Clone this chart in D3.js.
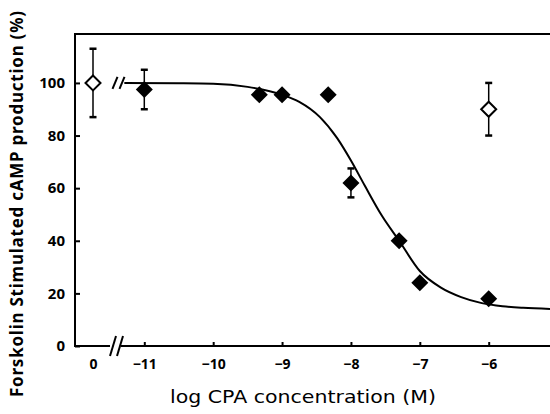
<!DOCTYPE html>
<html>
<head>
<meta charset="utf-8">
<script src="https://cdn.jsdelivr.net/npm/d3@7"></script>
<style>
  body { margin: 0; background: #fff; }
  svg { display: block; }
  .tick text { font-family: "Noto Sans", sans-serif; font-weight: 700; fill: #000; }
  .title { fill: #000; }
</style>
</head>
<body>
<svg width="550" height="414"></svg>
<script>
// data
const concLog = [-11, -9.33, -9, -8.33, -8, -7.3, -7, -6];
const response = [97.5, 95.5, 95.5, 95.5, 62, 40, 24, 18];
const responseErr = [7.5, 0, 0, 0, 5.5, 0, 0, 0];

// open symbols: control (no CPA) and antagonist point
const openX = ['0', -6];
const openY = [100, 90];
const openErr = [13, 10];

// fitted curve
const curveX = [-11.29, -10.5, -10, -9.5, -9, -8.75, -8.45, -8.2, -8, -7.8, -7.55, -7.3, -7, -6.7, -6.4, -6.1, -5.8, -5.5, -5.11];
const curveY = [100, 99.9, 99.7, 98.5, 95.5, 92.8, 87, 79, 70.5, 61, 49.5, 40, 28.5, 22.3, 18.6, 16.3, 15.1, 14.5, 14.1];

const xTicks = [-11, -10, -9, -8, -7, -6];
const yTicks = [0, 20, 40, 60, 80, 100];

const svg = d3.select('svg');
const width = +svg.attr('width');
const height = +svg.attr('height');
const margin = { top: 34, right: 0, bottom: 68, left: 75 };
const innerHeight = height - margin.top - margin.bottom;

const yScale = d3.scaleLinear().domain([0, 118.6]).range([margin.top + innerHeight, margin.top]);
const xScale = d3.scaleLinear().domain([-11, -6]).range([144.3, 488.7]);
const xCtrl = d3.scalePoint().domain(['0']).range([87, 99]);
const xPos = v => v === '0' ? xCtrl(v) : xScale(v);

const y0 = yScale(0);

// frame lines
const frame = svg.append('g').attr('stroke', '#000').attr('stroke-width', 2).attr('fill', 'none');
frame.append('line').attr('x1', margin.left).attr('x2', width).attr('y1', margin.top).attr('y2', margin.top);
frame.append('line').attr('x1', margin.left).attr('x2', margin.left).attr('y1', margin.top - 1).attr('y2', y0 + 1);
frame.append('line').attr('x1', margin.left - 1).attr('x2', 110).attr('y1', y0).attr('y2', y0);
frame.append('line').attr('x1', 121).attr('x2', width).attr('y1', y0).attr('y2', y0);

// axis break marks
[113, 120].forEach(bx => {
  frame.append('line').attr('x1', bx - 3).attr('y1', y0 + 10).attr('x2', bx + 3).attr('y2', y0 - 10);
});
[115, 122].forEach(bx => {
  frame.append('line').attr('x1', bx - 2.5).attr('y1', yScale(100) + 6).attr('x2', bx + 2.5).attr('y2', yScale(100) - 6);
});

// y axis
const yAxis = d3.axisLeft(yScale).tickValues(yTicks).tickSizeInner(-5).tickSizeOuter(0).tickPadding(10);
const yAxisG = svg.append('g').attr('transform', `translate(${margin.left},0)`).call(yAxis);
yAxisG.select('.domain').remove();
yAxisG.selectAll('line').attr('stroke-width', 2);
yAxisG.selectAll('text').style('font-size', '15px');

// x axis (log part)
const xAxis = d3.axisBottom(xScale).tickValues(xTicks).tickFormat(d3.format('d'))
  .tickSizeInner(-4).tickSizeOuter(0).tickPadding(13);
const xAxisG = svg.append('g').attr('transform', `translate(0,${y0})`).call(xAxis);
xAxisG.select('.domain').remove();
xAxisG.selectAll('line').attr('stroke-width', 2);
xAxisG.selectAll('text').style('font-size', '14px');

// x axis (control part)
const xCtrlAxis = d3.axisBottom(xCtrl).tickSize(0).tickPadding(13);
const xCtrlG = svg.append('g').attr('transform', `translate(0,${y0})`).call(xCtrlAxis);
xCtrlG.select('.domain').remove();
xCtrlG.selectAll('text').style('font-size', '14px');

// fitted curve
const line = d3.line().x(d => xScale(d[0])).y(d => yScale(d[1])).curve(d3.curveMonotoneX);
svg.append('path')
  .datum(d3.zip(curveX, curveY))
  .attr('d', line)
  .attr('fill', 'none')
  .attr('stroke', '#000')
  .attr('stroke-width', 2);

// error bars
const errData = d3.zip(concLog, response, responseErr).filter(d => d[2] > 0)
  .concat(d3.zip(openX, openY, openErr));
const eb = svg.append('g').attr('stroke', '#000').attr('stroke-width', 1.5);
errData.forEach(d => {
  const cx = xPos(d[0]);
  eb.append('line').attr('x1', cx).attr('x2', cx).attr('y1', yScale(d[1] + d[2])).attr('y2', yScale(d[1] - d[2]));
  [d[1] + d[2], d[1] - d[2]].forEach(v => {
    eb.append('line').attr('x1', cx - 3.5).attr('x2', cx + 3.5).attr('y1', yScale(v)).attr('y2', yScale(v)).attr('stroke-width', 2.5);
  });
});

// symbols
const diamond = r => `M0,${-r}L${r},0L0,${r}L${-r},0Z`;
svg.append('g').selectAll('path')
  .data(d3.zip(concLog, response))
  .enter().append('path')
  .attr('transform', d => `translate(${xScale(d[0])},${yScale(d[1])})`)
  .attr('d', diamond(8.5))
  .attr('fill', '#000');

svg.append('g').selectAll('path')
  .data(d3.zip(openX, openY))
  .enter().append('path')
  .attr('transform', d => `translate(${xPos(d[0])},${yScale(d[1])})`)
  .attr('d', diamond(7.5))
  .attr('fill', '#fff')
  .attr('stroke', '#000')
  .attr('stroke-width', 2);

// axis titles
svg.append('text')
  .attr('class', 'title')
  .attr('x', 303)
  .attr('y', 403)
  .attr('text-anchor', 'middle')
  .attr('textLength', 266)
  .attr('lengthAdjust', 'spacingAndGlyphs')
  .style('font-family', '"DejaVu Sans", sans-serif')
  .style('font-size', '17px')
  .text('log CPA concentration (M)');

svg.append('text')
  .attr('class', 'title')
  .attr('transform', 'rotate(-90)')
  .attr('x', -204)
  .attr('y', 23)
  .attr('text-anchor', 'middle')
  .attr('textLength', 386)
  .attr('lengthAdjust', 'spacing')
  .style('font-family', '"Noto Sans", sans-serif')
  .style('font-size', '17px')
  .style('font-weight', 700)
  .text('Forskolin Stimulated cAMP production (%)');
</script>
</body>
</html>
